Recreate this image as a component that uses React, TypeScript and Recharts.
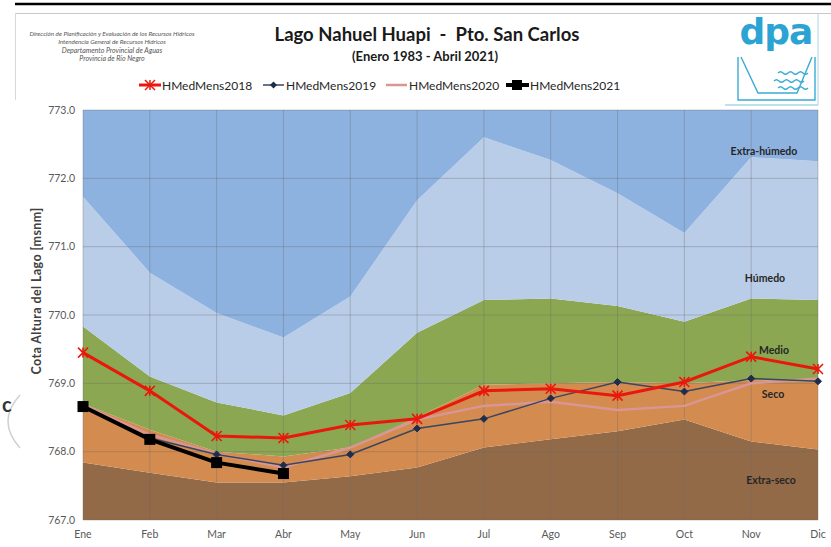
import React from 'react';
import { ComposedChart, Area, Line, XAxis, YAxis, ReferenceLine } from 'recharts';

const months = ['Ene', 'Feb', 'Mar', 'Abr', 'May', 'Jun', 'Jul', 'Ago', 'Sep', 'Oct', 'Nov', 'Dic'];
const yTicks = [767, 768, 769, 770, 771, 772, 773];

// Band limits (upper boundary of each class)
const limExtraSeco = [767.84, 767.69, 767.55, 767.55, 767.64, 767.77, 768.06, 768.18, 768.30, 768.47, 768.15, 768.03];
const limSeco = [768.70, 768.32, 768.00, 767.93, 768.06, 768.50, 768.98, 769.00, 769.02, 769.00, 769.05, 769.02];
const limMedio = [769.83, 769.10, 768.72, 768.53, 768.86, 769.74, 770.22, 770.24, 770.13, 769.90, 770.24, 770.22];
const limHumedo = [771.73, 770.62, 770.03, 769.67, 770.27, 771.68, 772.60, 772.27, 771.78, 771.20, 772.31, 772.25];
const yMin = 767;
const yMax = 773;

const h2018 = [769.45, 768.89, 768.23, 768.20, 768.39, 768.48, 768.89, 768.92, 768.82, 769.02, 769.39, 769.21];
const h2019 = [768.67, 768.20, 767.96, 767.80, 767.96, 768.34, 768.48, 768.78, 769.02, 768.88, 769.07, 769.03];
const h2020 = [768.68, 768.25, 767.97, 767.77, 768.06, 768.47, 768.67, 768.73, 768.61, 768.67, 769.00, 769.07];
const h2021 = [768.66, 768.18, 767.84, 767.68, null, null, null, null, null, null, null, null];

const rows = months.map((m, i) => ({
  m,
  extraSeco: [yMin, limExtraSeco[i]],
  seco: [limExtraSeco[i], limSeco[i]],
  medio: [limSeco[i], limMedio[i]],
  humedo: [limMedio[i], limHumedo[i]],
  extraHumedo: [limHumedo[i], yMax],
  h2018: h2018[i],
  h2019: h2019[i],
  h2020: h2020[i],
  h2021: h2021[i],
}));

const FONT = 'Lato, "Open Sans", sans-serif';

const StarDot = (props: any) => {
  const { cx, cy, index } = props;
  if (cx == null || cy == null || isNaN(cy)) return <g key={`s${index}`} />;
  const r = 5;
  return (
    <g key={`s${index}`} stroke="#e8190c" strokeWidth={1.6}>
      <line x1={cx - r} y1={cy - r} x2={cx + r} y2={cy + r} />
      <line x1={cx - r} y1={cy + r} x2={cx + r} y2={cy - r} />
      <line x1={cx} y1={cy - r} x2={cx} y2={cy + r} />
    </g>
  );
};

const DiamondDot = (props: any) => {
  const { cx, cy, index } = props;
  if (cx == null || cy == null || isNaN(cy)) return <g key={`d${index}`} />;
  const r = 3.5;
  return (
    <path key={`d${index}`} d={`M${cx},${cy - r} L${cx + r},${cy} L${cx},${cy + r} L${cx - r},${cy} Z`} fill="#1f2d4d" stroke="#1f2d4d" />
  );
};

const SquareDot = (props: any) => {
  const { cx, cy, index } = props;
  if (cx == null || cy == null || isNaN(cy)) return <g key={`q${index}`} />;
  const r = 5.5;
  return <rect key={`q${index}`} x={cx - r} y={cy - r} width={r * 2} height={r * 2} fill="#000" />;
};

const wave = (x: number, y: number, n: number) => {
  let d = `M${x},${y}`;
  for (let k = 0; k < n; k++) {
    d += ` q2.5,-2.5 5,0 q2.5,2.5 5,0`;
  }
  return d;
};

export default function App() {
  return (
    <div style={{ position: 'absolute', left: 0, top: 0, width: 831, height: 547, background: '#fff', overflow: 'hidden' }}>
      <div style={{ position: 'absolute', left: 0, top: 0 }}>
        <ComposedChart width={831} height={547} data={rows} margin={{ top: 110, right: 13, bottom: 7, left: 43 }}>
          <XAxis
            dataKey="m"
            scale="point"
            padding={{ left: 0, right: 0 }}
            interval={0}
            height={20}
            tickLine={false}
            axisLine={false}
            tickMargin={5}
            tick={{ fontSize: 10.5, fill: '#595959', fontFamily: FONT }}
          />
          <YAxis
            type="number"
            domain={[yMin, yMax]}
            ticks={yTicks}
            width={40}
            tickLine={false}
            axisLine={false}
            allowDataOverflow
            tickFormatter={(v: number) => v.toFixed(1)}
            tick={{ fontSize: 10.5, fill: '#595959', fontFamily: FONT }}
          />
          <Area dataKey="extraSeco" stroke="none" fill="#936a48" fillOpacity={1} isAnimationActive={false} />
          <Area dataKey="seco" stroke="none" fill="#d48b50" fillOpacity={1} isAnimationActive={false} />
          <Area dataKey="medio" stroke="none" fill="#8ba752" fillOpacity={1} isAnimationActive={false} />
          <Area dataKey="humedo" stroke="none" fill="#b9cde8" fillOpacity={1} isAnimationActive={false} />
          <Area dataKey="extraHumedo" stroke="none" fill="#8db2e0" fillOpacity={1} isAnimationActive={false} />
          {months.map((m) => (
            <ReferenceLine key={`vx${m}`} x={m} stroke="#6b6b6b" strokeOpacity={0.35} strokeWidth={1} />
          ))}
          {yTicks.map((v) => (
            <ReferenceLine key={`hy${v}`} y={v} stroke="#6b6b6b" strokeOpacity={0.35} strokeWidth={1} />
          ))}
          <Line dataKey="h2020" stroke="#d99694" strokeWidth={2.5} dot={false} isAnimationActive={false} />
          <Line dataKey="h2019" stroke="#3a4560" strokeWidth={1.5} dot={DiamondDot} isAnimationActive={false} />
          <Line dataKey="h2018" stroke="#e8190c" strokeWidth={3} dot={StarDot} isAnimationActive={false} />
          <Line dataKey="h2021" stroke="#000" strokeWidth={4} dot={SquareDot} connectNulls={false} isAnimationActive={false} />
        </ComposedChart>
      </div>
      <svg width={831} height={547} style={{ position: 'absolute', left: 0, top: 0, pointerEvents: 'none' }}>
        {/* header frame */}
        <line x1={15} y1={4} x2={831} y2={4} stroke="#000" strokeWidth={2.5} />
        <line x1={15} y1={13.5} x2={831} y2={13.5} stroke="#c8c8c8" strokeWidth={1} />
        <line x1={15.5} y1={13} x2={15.5} y2={100} stroke="#d8d8d8" strokeWidth={1} />
        {/* institution text */}
        <g fontFamily={FONT} fontStyle="italic" fill="#555" textAnchor="middle">
          <text x={112} y={36} fontSize={6.3}>Dirección de Planificación y Evaluación de los Recursos Hídricos</text>
          <text x={112} y={44} fontSize={6.3}>Intendencia General de Recursos Hídricos</text>
          <text x={112} y={53} fontSize={7}>Departamento Provincial de Aguas</text>
          <text x={112} y={61} fontSize={7}>Provincia de Río Negro</text>
        </g>
        {/* title */}
        <text x={427} y={41} textAnchor="middle" fontFamily={FONT} fontWeight="bold" fontSize={18.5} fill="#1a1a1a" style={{ whiteSpace: 'pre' }}>
          {'Lago Nahuel Huapi  -  Pto. San Carlos'}
        </text>
        <text x={425} y={61} textAnchor="middle" fontFamily={FONT} fontWeight="bold" fontSize={13} fill="#1a1a1a">
          (Enero 1983 - Abril 2021)
        </text>
        {/* logo */}
        <line x1={725} y1={105} x2={818} y2={105} stroke="#a8d6ea" strokeWidth={1.5} />
        <line x1={818} y1={14} x2={818} y2={105} stroke="#a8d6ea" strokeWidth={1} />
        <text x={776} y={44} textAnchor="middle" fontFamily='"DejaVu Sans", sans-serif' fontWeight="bold" fontSize={36} fill="#2ba3d3" letterSpacing={-1}>
          dpa
        </text>
        <g stroke="#3aaad6" strokeWidth={1.4} fill="none">
          <path d="M738,57 L738,100 L815,100 L815,57" />
          <path d="M741,57 L758,93 L797,93 L812,57" />
          <path d={wave(778, 73, 3)} />
          <path d={wave(774, 81, 3)} />
          <path d={wave(778, 88, 3)} />
        </g>
        {/* legend */}
        <g fontFamily={FONT} fontSize={12} fill="#262626">
          <line x1={139} y1={85} x2={161} y2={85} stroke="#e8190c" strokeWidth={3} />
          <g stroke="#e8190c" strokeWidth={1.5}>
            <line x1={145} y1={80} x2={155} y2={90} />
            <line x1={145} y1={90} x2={155} y2={80} />
            <line x1={150} y1={80} x2={150} y2={90} />
          </g>
          <text x={162} y={89.5}>HMedMens2018</text>
          <line x1={263} y1={85} x2={284} y2={85} stroke="#3a4560" strokeWidth={1.5} />
          <path d="M273.5,81.5 L277,85 L273.5,88.5 L270,85 Z" fill="#1f2d4d" />
          <text x={286} y={89.5}>HMedMens2019</text>
          <line x1={386} y1={85} x2={407} y2={85} stroke="#d99694" strokeWidth={2.5} />
          <text x={409} y={89.5}>HMedMens2020</text>
          <line x1={506} y1={85} x2={529} y2={85} stroke="#000" strokeWidth={4} />
          <rect x={512} y={80} width={10} height={10} fill="#000" />
          <text x={530} y={89.5}>HMedMens2021</text>
        </g>
        {/* y axis title */}
        <text
          x={41}
          y={291}
          transform="rotate(-90 41 291)"
          textAnchor="middle"
          fontFamily={FONT}
          fontWeight="bold"
          fontSize={12.5}
          letterSpacing={0.4}
          fill="#404040"
        >
          Cota Altura del Lago [msnm]
        </text>
        {/* band labels */}
        <g fontFamily={FONT} fontWeight="bold" fontSize={10.5} fill="#262626" textAnchor="middle">
          <text x={764} y={155}>Extra-húmedo</text>
          <text x={765} y={282}>Húmedo</text>
          <text x={774} y={354}>Medio</text>
          <text x={773} y={398}>Seco</text>
          <text x={771} y={484}>Extra-seco</text>
        </g>
        {/* page artifact at left edge */}
        <path d="M20,395 Q-4,421 20,448" stroke="#d0d0d0" strokeWidth={1.5} fill="none" />
        <text x={2} y={412} fontFamily={FONT} fontWeight="bold" fontSize={20} fill="#333">c</text>
      </svg>
    </div>
  );
}
